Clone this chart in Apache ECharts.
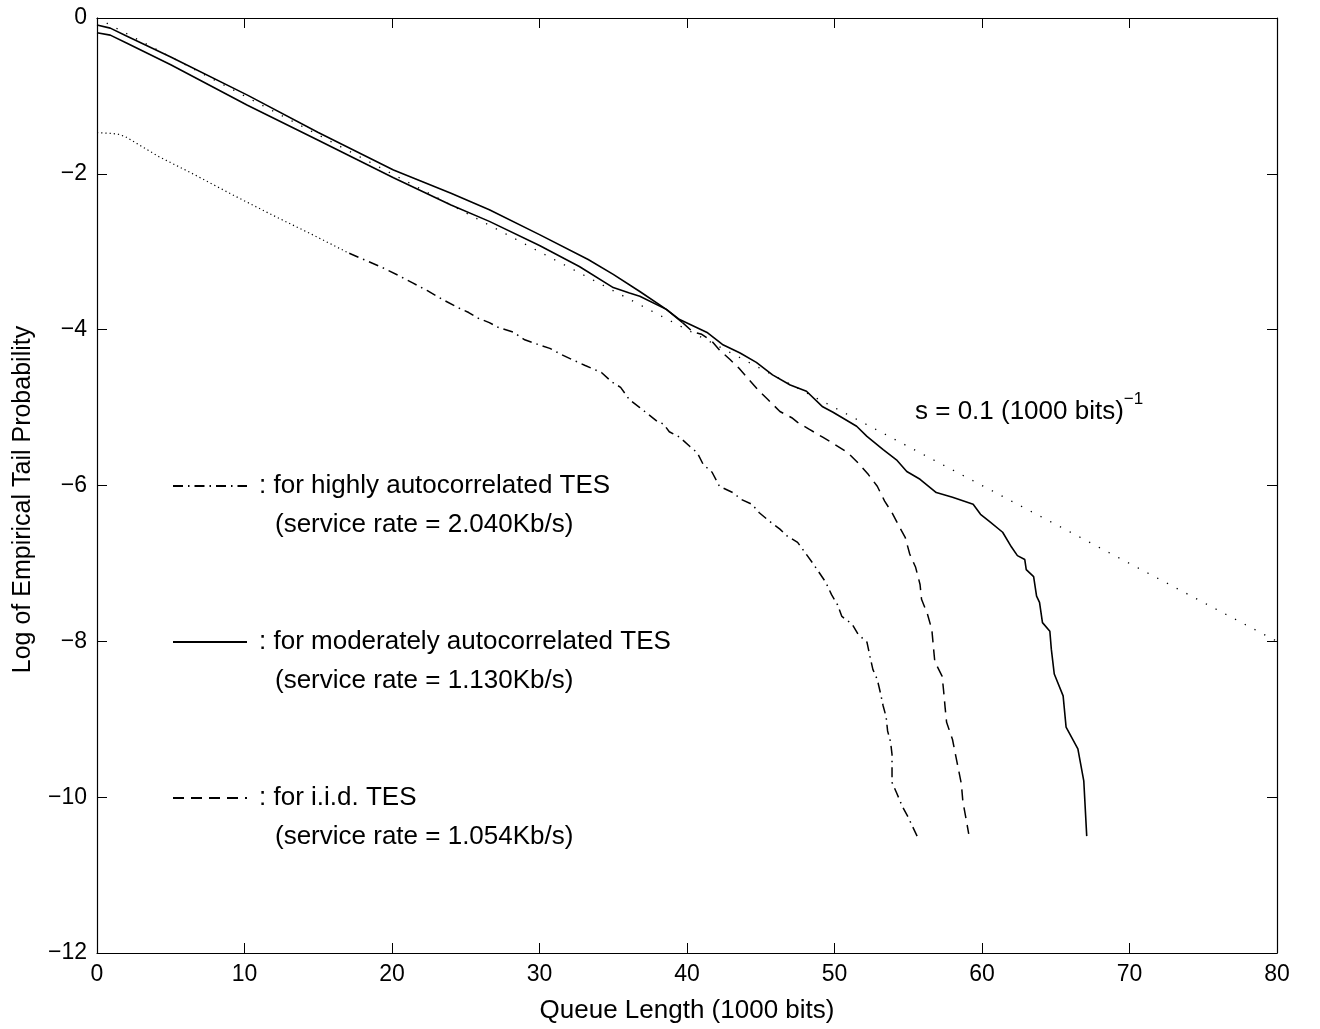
<!DOCTYPE html>
<html>
<head>
<meta charset="utf-8">
<script src="https://cdn.jsdelivr.net/npm/echarts@6/dist/echarts.min.js"></script>
<style>
  html, body { margin: 0; padding: 0; background: #fff; }
  #chart { width: 1320px; height: 1029px; }
</style>
</head>
<body>
<div id="chart"></div>
<script>
// reference slope line s = 0.1
var refX = [0, 80];
var refY = [0, -8];

// highly autocorrelated TES (dash-dot)
var highX = [0, 0.9, 1.4, 1.9, 4.2, 6.4, 9.2, 11.9, 14.6, 17.1, 19.2, 20.4, 21.4, 22.4, 23.4, 24.5, 25.2, 25.8, 26.6, 27.2, 28.2, 29, 29.9, 30.7, 31.5, 32.4, 33.1, 34.2, 34.9, 35.5, 36.1, 36.8, 37.4, 38, 38.4, 38.8, 39.5, 40.2, 40.7, 41.1, 41.7, 42.2, 43.1, 43.7, 44.4, 44.9, 45.6, 46.3, 46.8, 47.5, 48, 48.5, 48.9, 49.4, 49.8, 50.2, 50.5, 51.2, 51.6, 52.2, 52.4, 52.6, 52.9, 53.1, 53.3, 53.5, 53.6, 53.8, 53.9, 53.9, 53.9, 54.2, 54.6, 55, 55.3, 55.6];
var highY = [-1.47, -1.48, -1.49, -1.52, -1.78, -1.99, -2.27, -2.53, -2.78, -3.02, -3.19, -3.3, -3.4, -3.5, -3.61, -3.72, -3.78, -3.85, -3.91, -3.97, -4.03, -4.13, -4.19, -4.24, -4.32, -4.4, -4.46, -4.55, -4.67, -4.74, -4.9, -5.0, -5.09, -5.18, -5.21, -5.31, -5.38, -5.5, -5.58, -5.73, -5.83, -6.01, -6.09, -6.18, -6.24, -6.35, -6.46, -6.56, -6.65, -6.73, -6.86, -6.99, -7.1, -7.24, -7.4, -7.53, -7.68, -7.78, -7.91, -8.01, -8.19, -8.36, -8.49, -8.65, -8.83, -8.97, -9.15, -9.29, -9.45, -9.64, -9.81, -9.94, -10.12, -10.26, -10.38, -10.5];

// moderately autocorrelated TES (solid)
var modX = [0, 0.9, 2, 5, 10.2, 15, 20.1, 24, 26.6, 30, 32.7, 35, 36.1, 36.8, 38.6, 39.5, 41.4, 42.4, 43.6, 44.7, 45.8, 47, 48.1, 49.2, 49.9, 51.5, 52.2, 53.3, 54.2, 54.9, 55.8, 56.9, 58, 59.4, 59.9, 60.5, 61.4, 62, 62.4, 62.9, 63, 63.5, 63.7, 63.9, 64.1, 64.6, 64.7, 64.9, 65.5, 65.7, 66.5, 66.9, 67.1];
var modY = [-0.19, -0.22, -0.32, -0.6, -1.12, -1.57, -2.05, -2.4, -2.61, -2.92, -3.19, -3.46, -3.53, -3.57, -3.74, -3.87, -4.04, -4.19, -4.3, -4.42, -4.58, -4.71, -4.79, -4.99, -5.06, -5.24, -5.37, -5.54, -5.67, -5.82, -5.92, -6.09, -6.15, -6.24, -6.37, -6.46, -6.6, -6.79, -6.9, -6.95, -7.08, -7.17, -7.42, -7.5, -7.76, -7.87, -8.1, -8.42, -8.7, -9.1, -9.38, -9.79, -10.5];

// i.i.d. TES (dashed)
var iidX = [0, 0.9, 2, 5, 10.2, 15, 20.1, 24, 26.6, 30, 33.3, 35, 36.8, 38.6, 39.7, 40.4, 41, 41.7, 42.2, 42.9, 43.5, 44.1, 44.8, 45.5, 46.3, 47.1, 47.5, 48.3, 49.2, 50, 50.9, 51.6, 52.3, 52.9, 53.4, 53.9, 54.4, 54.8, 55.1, 55.5, 55.8, 55.9, 56.3, 56.6, 56.7, 56.8, 57.3, 57.4, 57.5, 57.6, 58, 58.2, 58.4, 58.6, 58.7, 58.9, 59.1];
var iidY = [-0.09, -0.13, -0.23, -0.5, -0.99, -1.47, -1.95, -2.25, -2.46, -2.78, -3.1, -3.29, -3.51, -3.74, -3.91, -4.03, -4.06, -4.15, -4.26, -4.38, -4.49, -4.62, -4.77, -4.9, -5.05, -5.13, -5.19, -5.28, -5.38, -5.47, -5.58, -5.71, -5.86, -6.01, -6.2, -6.35, -6.53, -6.67, -6.88, -7.05, -7.27, -7.46, -7.65, -7.85, -8.06, -8.26, -8.45, -8.64, -8.85, -9.04, -9.26, -9.45, -9.64, -9.83, -10.05, -10.26, -10.47];

var legendNames = ['for highly autocorrelated TES', 'for moderately autocorrelated TES', 'for i.i.d. TES'];
var rateNotes = ['(service rate = 2.040Kb/s)', '(service rate = 1.130Kb/s)', '(service rate = 1.054Kb/s)'];
var xTicks = [0, 80, 10];
var yTicks = [-12, 0, 2];

var FONT = '"Liberation Sans", Arial, Helvetica, sans-serif';
var TXT = 26;   // label / annotation size
var TICK = 23;  // tick label size

function pairs(xs, ys, from, to) {
  var out = [];
  for (var i = 0; i < xs.length; i++) {
    if (xs[i] >= from && xs[i] <= to) out.push([xs[i], ys[i]]);
  }
  return out;
}

function lineSeries(name, data, type, width) {
  return {
    name: name,
    type: 'line',
    data: data,
    symbol: 'none',
    silent: true,
    itemStyle: { color: '#000', opacity: 0 },
    lineStyle: { color: '#000', width: width, type: type, opacity: 1 }
  };
}

function boxAxis(extra) {
  var base = {
    type: 'value',
    axisLine: { onZero: false, lineStyle: { color: '#000', width: 1.2 } },
    axisTick: { inside: true, length: 10, lineStyle: { color: '#000' } },
    splitLine: { show: false }
  };
  for (var k in extra) base[k] = extra[k];
  return base;
}

var chart = echarts.init(document.getElementById('chart'));

var legendMid = [486, 642, 798];
var noteMid = [526, 682, 838];

var option = {
  animation: false,
  backgroundColor: '#fff',
  textStyle: { fontFamily: FONT },
  grid: { left: 97, top: 18, width: 1180, height: 936 },
  xAxis: [
    boxAxis({
      min: xTicks[0], max: xTicks[1], interval: xTicks[2],
      name: 'Queue Length (1000 bits)', nameLocation: 'middle', nameGap: 45,
      nameTextStyle: { fontSize: TXT, color: '#000', fontFamily: FONT },
      axisLabel: { fontSize: TICK, color: '#000', margin: 10, fontFamily: FONT }
    }),
    boxAxis({
      position: 'top', min: xTicks[0], max: xTicks[1], interval: xTicks[2],
      axisLabel: { show: false }
    })
  ],
  yAxis: [
    boxAxis({
      min: yTicks[0], max: yTicks[1], interval: yTicks[2],
      name: 'Log of Empirical Tail Probability', nameLocation: 'middle', nameGap: 61,
      nameTextStyle: { fontSize: 25, color: '#000', fontFamily: FONT, padding: [0, 28, 0, 0] },
      axisLabel: {
        fontSize: TICK, color: '#000', margin: 10, fontFamily: FONT,
        formatter: function (v) { return String(v).replace('-', '\u2212'); }
      }
    }),
    boxAxis({
      position: 'right', min: yTicks[0], max: yTicks[1], interval: yTicks[2],
      axisLabel: { show: false }
    })
  ],
  legend: legendNames.map(function (n, i) {
    return {
      data: [n],
      left: 172,
      top: legendMid[i] - 15,
      padding: 0,
      selectedMode: false,
      itemWidth: 74,
      itemHeight: 14,
      itemStyle: { opacity: 0 },
      formatter: function (name) { return ': ' + name; },
      textStyle: { fontSize: TXT, lineHeight: 30, color: '#000', fontFamily: FONT, padding: [0, 0, 0, 7] }
    };
  }),
  graphic: rateNotes.map(function (t, i) {
    return {
      type: 'text', left: 275, top: noteMid[i] - 14,
      style: { text: t, font: TXT + 'px ' + FONT, fill: '#000' }
    };
  }).concat([{
    type: 'text', left: 915, top: 391,
    style: {
      text: '{m|s = 0.1 (1000 bits)}{s|\u22121}',
      fill: '#000',
      rich: {
        m: { fontSize: TXT, fontFamily: FONT, verticalAlign: 'bottom', lineHeight: 34 },
        s: { fontSize: 17, fontFamily: FONT, verticalAlign: 'top', lineHeight: 34 }
      }
    }
  }]),
  series: [
    lineSeries('ref', pairs(refX, refY, 0, 80), [1.3, 9.7], 1.3),
    lineSeries('high-dense', pairs(highX, highY, 0, 17.1), [1.2, 3], 1.2),
    lineSeries(legendNames[0], pairs(highX, highY, 17.1, 100), [10, 5, 1.5, 5], 1.5),
    lineSeries(legendNames[1], pairs(modX, modY, 0, 100), 'solid', 1.6),
    lineSeries('iid-dense', pairs(iidX, iidY, 0, 39.7), 'solid', 1.6),
    lineSeries(legendNames[2], pairs(iidX, iidY, 39.7, 100), [11, 7], 1.5)
  ]
};

chart.setOption(option);
</script>
</body>
</html>
